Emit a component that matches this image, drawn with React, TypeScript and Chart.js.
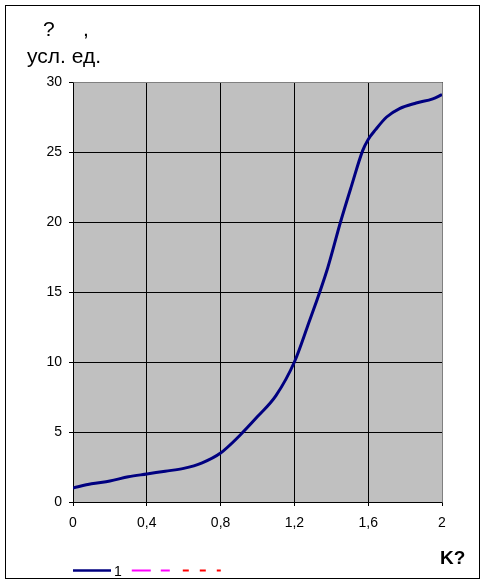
import React, { useEffect, useRef } from "react";
import { Chart, registerables } from "chart.js";

Chart.register(...registerables);

const xValues = [0, 0.1, 0.2, 0.3, 0.4, 0.5, 0.6, 0.7, 0.8, 0.9, 1.0, 1.1, 1.2, 1.27, 1.38, 1.45, 1.51, 1.57, 1.6, 1.64, 1.7, 1.77, 1.86, 1.95, 2.0];
const series1 = [1.0, 1.3, 1.5, 1.8, 2.0, 2.2, 2.4, 2.8, 3.5, 4.7, 6.1, 7.6, 10.0, 12.5, 16.7, 20.0, 22.6, 25.1, 25.9, 26.6, 27.5, 28.1, 28.5, 28.8, 29.1];
const seriesLabels = ["1", "", ""];
const seriesColors = ["#000080", "#FF00FF", "#FF0000"];
const seriesDashes: number[][] = [[], [19, 10], [6, 11]];
const yTitleLine1a = "?";
const yTitleLine1b = ",";
const yTitleLine2 = "усл. ед.";
const xTitle = "K?";

const FONT = "'Liberation Sans', Arial, sans-serif";

export default function App() {
  const ref = useRef<HTMLCanvasElement | null>(null);
  useEffect(() => {
    const canvas = ref.current!;
    const decor = {
      id: "decor",
      beforeDraw(chart: any) {
        const { ctx, chartArea: a } = chart;
        ctx.save();
        ctx.fillStyle = "#FFFFFF";
        ctx.fillRect(0, 0, chart.width, chart.height);
        ctx.fillStyle = "#C0C0C0";
        ctx.fillRect(a.left, a.top, a.right - a.left, a.bottom - a.top);
        ctx.restore();
      },
      beforeDatasetsDraw(chart: any) {
        const { ctx, chartArea: a } = chart;
        ctx.save();
        ctx.strokeStyle = "#808080";
        ctx.lineWidth = 1;
        ctx.beginPath();
        ctx.moveTo(Math.round(a.left) + 0.5, Math.round(a.top) + 0.5);
        ctx.lineTo(Math.round(a.right) + 0.5, Math.round(a.top) + 0.5);
        ctx.lineTo(Math.round(a.right) + 0.5, Math.round(a.bottom) + 0.5);
        ctx.stroke();
        ctx.restore();
      },
      afterDraw(chart: any) {
        const { ctx, chartArea: a } = chart;
        ctx.save();
        // outer frame
        ctx.strokeStyle = "#000000";
        ctx.lineWidth = 1;
        ctx.strokeRect(5.5, 5.5, 474, 573);
        // titles
        ctx.fillStyle = "#000000";
        ctx.textBaseline = "alphabetic";
        ctx.textAlign = "left";
        ctx.font = `21px ${FONT}`;
        ctx.fillText(yTitleLine1a, 43, 36);
        ctx.fillText(yTitleLine1b, 83, 36);
        ctx.fillText(yTitleLine2, 27, 63);
        ctx.font = `bold 19px ${FONT}`;
        ctx.fillText(xTitle, 440, 564);
        // legend
        let x = a.left;
        const ly = 570.5;
        chart.data.datasets.forEach((ds: any, i: number) => {
          ctx.strokeStyle = ds.borderColor;
          ctx.lineWidth = i === 0 ? 2.5 : 2;
          ctx.setLineDash(seriesDashes[i]);
          ctx.beginPath();
          ctx.moveTo(x, ly);
          ctx.lineTo(x + 38, ly);
          ctx.stroke();
          ctx.setLineDash([]);
          x += 40;
          if (ds.label) {
            ctx.font = `14px ${FONT}`;
            ctx.fillStyle = "#000000";
            ctx.fillText(ds.label, x + 1, 576);
            x += ctx.measureText(ds.label).width;
          }
          x += 11;
        });
        ctx.restore();
      },
    };
    const chart = new Chart(canvas, {
      type: "line",
      data: {
        datasets: seriesLabels.map((label, i) => ({
          label,
          data: i === 0 ? xValues.map((x, j) => ({ x, y: series1[j] })) : [],
          borderColor: seriesColors[i],
          backgroundColor: seriesColors[i],
          borderWidth: 3,
          borderDash: seriesDashes[i],
          pointRadius: 0,
          cubicInterpolationMode: "monotone" as const,
          fill: false,
        })),
      },
      options: {
        animation: false,
        responsive: false,
        maintainAspectRatio: false,
        layout: { padding: { top: 82, right: 43, left: 0, bottom: 43 } },
        plugins: { legend: { display: false }, tooltip: { enabled: false }, title: { display: false } },
        scales: {
          x: {
            type: "linear",
            min: 0,
            max: 2,
            ticks: {
              stepSize: 0.4,
              color: "#000000",
              font: { family: FONT, size: 14 },
              padding: 9,
              maxRotation: 0,
              callback: (v: any) => String(Number(Number(v).toFixed(1))).replace(".", ","),
            },
            grid: { color: "#000000", lineWidth: 1, tickLength: 4, drawTicks: true, tickColor: "#000000" },
            border: { color: "#000000", width: 1 },
            afterFit: (s: any) => { s.height = 40; },
          },
          y: {
            type: "linear",
            min: 0,
            max: 30,
            ticks: {
              stepSize: 5,
              color: "#000000",
              font: { family: FONT, size: 14 },
              padding: 7,
            },
            grid: { color: "#000000", lineWidth: 1, tickLength: 4, drawTicks: true, tickColor: "#000000" },
            border: { color: "#000000", width: 1 },
            afterFit: (s: any) => { s.width = 73; },
          },
        },
      },
      plugins: [decor],
    });
    return () => chart.destroy();
  }, []);
  return (
    <div style={{ position: "absolute", left: 0, top: 0, width: 485, height: 585 }}>
      <canvas ref={ref} width={485} height={585} style={{ display: "block", width: 485, height: 585 }} />
    </div>
  );
}
